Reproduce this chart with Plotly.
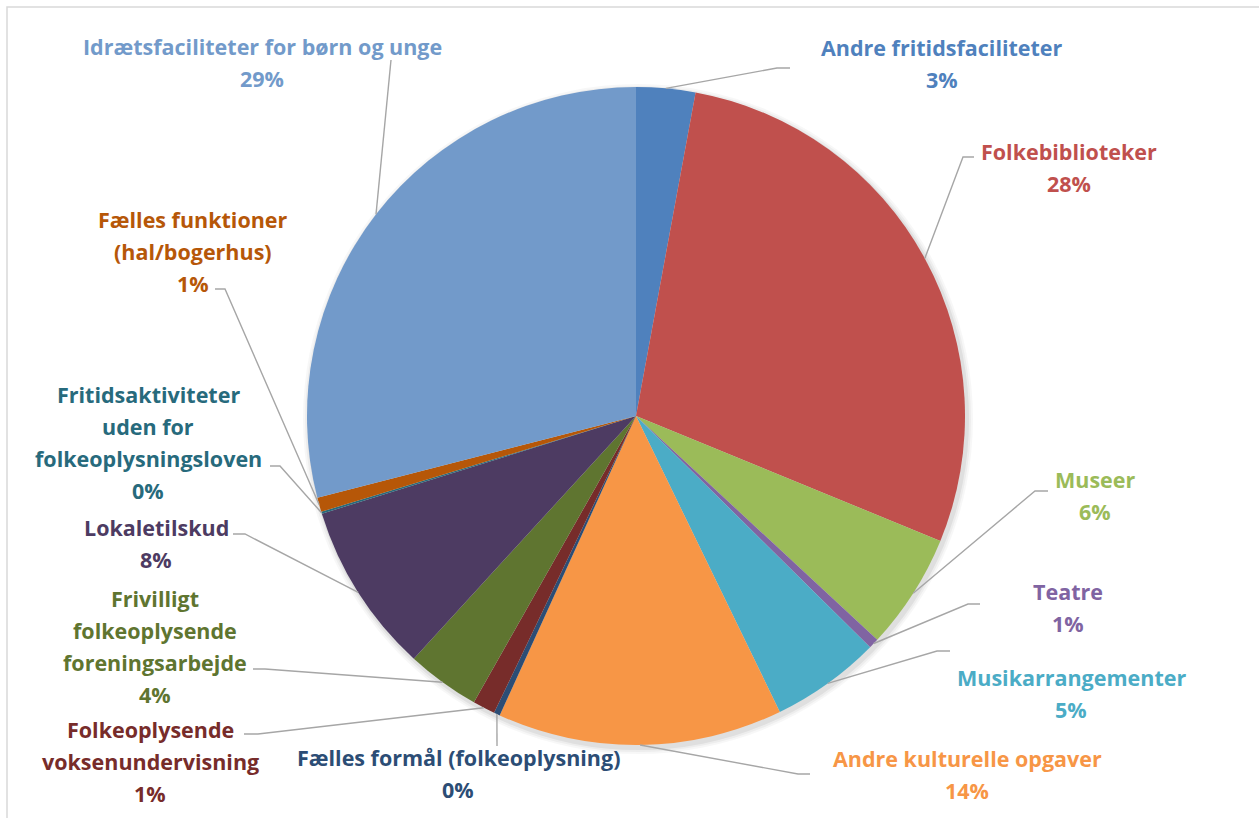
import math
import plotly.graph_objects as go

# ---- data ----
categories = [
    "Andre fritidsfaciliteter",
    "Folkebiblioteker",
    "Museer",
    "Teatre",
    "Musikarrangementer",
    "Andre kulturelle opgaver",
    "Fælles formål (folkeoplysning)",
    "Folkeoplysende voksenundervisning",
    "Frivilligt folkeoplysende foreningsarbejde",
    "Lokaletilskud",
    "Fritidsaktiviteter uden for folkeoplysningsloven",
    "Fælles funktioner (hal/bogerhus)",
    "Idrætsfaciliteter for børn og unge",
]
values = [2.9, 28.3, 5.7, 0.5, 5.4, 14.0, 0.3, 1.1, 3.6, 8.4, 0.1, 0.7, 29.0]
pct_labels = ["3%", "28%", "6%", "1%", "5%", "14%", "0%", "1%", "4%", "8%", "0%", "1%", "29%"]
label_lines = [
    ["Andre fritidsfaciliteter"],
    ["Folkebiblioteker"],
    ["Museer"],
    ["Teatre"],
    ["Musikarrangementer"],
    ["Andre kulturelle opgaver"],
    ["Fælles formål (folkeoplysning)"],
    ["Folkeoplysende", "voksenundervisning"],
    ["Frivilligt", "folkeoplysende", "foreningsarbejde"],
    ["Lokaletilskud"],
    ["Fritidsaktiviteter", "uden for", "folkeoplysningsloven"],
    ["Fælles funktioner", "(hal/bogerhus)"],
    ["Idrætsfaciliteter for børn og unge"],
]
colors = ["#4F81BD", "#C0504D", "#9BBB59", "#8064A2", "#4BACC6", "#F79646",
          "#2C4D75", "#772C2A", "#5F7530", "#4D3B62", "#276A7C", "#B65708", "#729ACA"]

# ---- layout (pixel geometry) ----
W, H = 1259, 818
CX, CY, R = 636, 416, 329
# label block: center x, first-line y
label_pos = [
    (942, 47), (1069, 151), (1095, 479), (1068, 591), (1071, 677), (967, 758),
    (458, 757), (150, 729), (155, 598), (156, 527), (148, 394), (193, 219), (262, 46),
]
LS = 32.3
# leader line: elbow point, end point (None = no horizontal part)
leader = [
    ((777, 68), (790, 68)),
    ((963, 157), (974, 157)),
    ((1035, 491), (1048, 491)),
    ((968, 604), (980, 604)),
    ((937, 651), (950, 651)),
    ((798, 774), (810, 774)),
    ((497, 746), None),
    ((258, 734), (244, 734)),
    ((265, 669), (253, 669)),
    ((245, 534), (233, 534)),
    ((280, 466), (270, 466)),
    ((225, 289), (215, 289)),
    ((391, 60), None),
]

fig = go.Figure()
fig.add_trace(go.Pie(
    labels=categories, values=values, sort=False, direction="clockwise", rotation=0,
    marker=dict(colors=colors, line=dict(width=0)),
    textinfo="none", hoverinfo="label+percent", showlegend=False,
    domain=dict(x=[(CX - R) / W, (CX + R) / W], y=[1 - (CY + R) / H, 1 - (CY - R) / H]),
))

# invisible pixel axes for annotations / lines
fig.add_trace(go.Scatter(x=[0, W], y=[0, H], mode="markers", marker=dict(opacity=0),
                         hoverinfo="skip", showlegend=False))

shapes = []
# soft shadow behind the pie
for i, (dr, op) in enumerate([(6, 0.03), (4, 0.04), (2, 0.06)]):
    shapes.append(dict(type="circle", xref="x", yref="y", layer="below",
                       x0=CX - R - dr + 2, x1=CX + R + dr + 2, y0=CY - R - dr + 3, y1=CY + R + dr + 3,
                       fillcolor=f"rgba(0,0,0,{op})", line=dict(width=0)))
# chart border
shapes.append(dict(type="rect", xref="x", yref="y", x0=7, y0=7, x1=W + 20, y1=H + 20,
                   line=dict(color="#D9D9D9", width=1.5), fillcolor="rgba(0,0,0,0)"))

total = sum(values)
cum = 0.0
annotations = []
for i, v in enumerate(values):
    mid = (cum + v / 2) / total * 2 * math.pi
    cum += v
    sx = CX + R * math.sin(mid)
    sy = CY - R * math.cos(mid)
    (ex, ey), end = leader[i]
    path = f"M {sx:.1f},{sy:.1f} L {ex},{ey}"
    if end is not None:
        path += f" L {end[0]},{end[1]}"
    shapes.append(dict(type="path", xref="x", yref="y", path=path,
                       line=dict(color="#A6A6A6", width=1.4)))
    lx, ly = label_pos[i]
    lines = label_lines[i] + [pct_labels[i]]
    for k, t in enumerate(lines):
        annotations.append(dict(x=lx, y=ly + k * LS, xref="x", yref="y", text=f"<b>{t}</b>",
                                showarrow=False, xanchor="center", yanchor="middle",
                                font=dict(family="Open Sans", size=21.5, color=colors[i])))

fig.update_layout(
    width=W, height=H, margin=dict(l=0, r=0, t=0, b=0),
    paper_bgcolor="white", plot_bgcolor="rgba(0,0,0,0)",
    xaxis=dict(range=[0, W], visible=False, fixedrange=True),
    yaxis=dict(range=[H, 0], visible=False, fixedrange=True),
    shapes=shapes, annotations=annotations,
)
fig.write_html("out.html", config={"displayModeBar": False},
               post_script="document.body.style.margin='0';")
